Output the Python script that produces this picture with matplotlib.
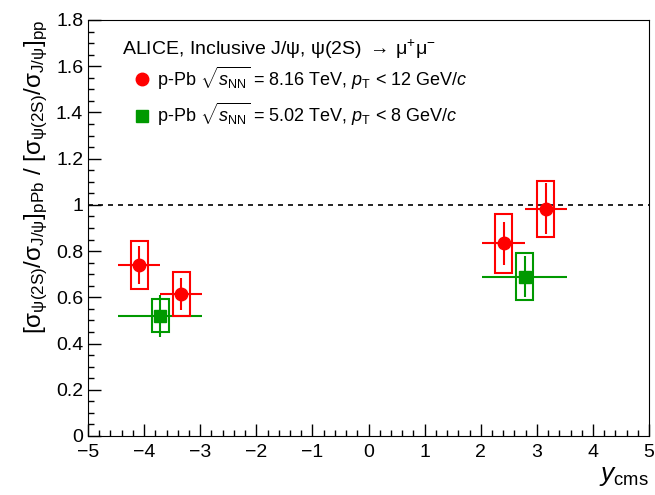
import numpy as np
import matplotlib
matplotlib.use("Agg")
import matplotlib.pyplot as plt
from matplotlib.lines import Line2D
from matplotlib.patches import Rectangle
from matplotlib.ticker import MultipleLocator, FormatStrFormatter

plt.rcParams['font.family'] = ['Liberation Sans', 'DejaVu Sans']
plt.rcParams['mathtext.fontset'] = 'custom'
plt.rcParams['mathtext.rm'] = 'Liberation Sans'
plt.rcParams['mathtext.it'] = 'Liberation Sans:italic'
plt.rcParams['mathtext.default'] = 'regular'

# p-Pb 8.16 TeV, pT < 12 GeV/c
y816 = [-4.085, -3.335, 2.405, 3.155]
ybw816 = [0.375, 0.375, 0.375, 0.375]
r816 = [0.74, 0.615, 0.833, 0.983]
stat816 = [0.083, 0.070, 0.095, 0.110]
sys816 = [0.104, 0.095, 0.128, 0.120]

# p-Pb 5.02 TeV, pT < 8 GeV/c
y502 = [-3.71, 2.78]
ybw502 = [0.75, 0.75]
r502 = [0.52, 0.69]
stat502 = [0.090, 0.090]
sys502 = [0.072, 0.100]

red = '#ff0000'
green = '#009900'
boxw = 0.15

fig = plt.figure(figsize=(6.55, 4.95), dpi=100)
ax = fig.add_axes([0.1344, 0.1192, 0.8566, 0.8404])

ax.axhline(1.0, color='black', ls=(0, (3, 3)), lw=1.2, zorder=1)

for x, xe, v, st, sy in zip(y502, ybw502, r502, stat502, sys502):
    ax.add_patch(Rectangle((x - boxw, v - sy), 2 * boxw, 2 * sy, fill=False,
                           ec=green, lw=1.5, zorder=2))
ax.errorbar(y502, r502, xerr=ybw502, yerr=stat502, fmt='s', color=green,
            ms=8, elinewidth=1.5, capsize=0, zorder=3)

for x, xe, v, st, sy in zip(y816, ybw816, r816, stat816, sys816):
    ax.add_patch(Rectangle((x - boxw, v - sy), 2 * boxw, 2 * sy, fill=False,
                           ec=red, lw=1.5, zorder=4))
ax.errorbar(y816, r816, xerr=ybw816, yerr=stat816, fmt='o', color=red,
            ms=9, elinewidth=1.5, capsize=0, zorder=5)

ax.set_xlim(-5, 5)
ax.set_ylim(0, 1.8)
ax.xaxis.set_major_locator(MultipleLocator(1))
ax.xaxis.set_minor_locator(MultipleLocator(0.2))
ax.yaxis.set_major_locator(MultipleLocator(0.2))
ax.yaxis.set_minor_locator(MultipleLocator(0.05))
ax.yaxis.set_major_formatter(FormatStrFormatter('%g'))
ax.tick_params(which='both', direction='in', labelsize=14)
ax.tick_params(which='major', length=9, width=1)
ax.tick_params(which='minor', length=4.5, width=1)
ax.tick_params(axis='x', pad=6)

ax.set_xlabel(r'$\mathit{y}_{cms}$', fontsize=19, loc='right', labelpad=2)
ax.set_ylabel(r'$[\sigma_{\psi(2S)}/\sigma_{J/\psi}]_{pPb}\ /\ [\sigma_{\psi(2S)}/\sigma_{J/\psi}]_{pp}$',
              fontsize=17.5, loc='top', labelpad=4)

ax.text(0.06, 0.93, r'ALICE, Inclusive J/$\psi$, $\psi$(2S) $\rightarrow\,\mu^{+}\mu^{-}$',
        transform=ax.transAxes, fontsize=14, va='center', ha='left')

handles = [Line2D([], [], marker='o', ls='none', color=red, ms=9),
           Line2D([], [], marker='s', ls='none', color=green, ms=8)]
labels = [r'p-Pb $\sqrt{\mathit{s}_{NN}}$ = 8.16 TeV, $\mathit{p}_{T}$ < 12 GeV/$\mathit{c}$',
          r'p-Pb $\sqrt{\mathit{s}_{NN}}$ = 5.02 TeV, $\mathit{p}_{T}$ < 8 GeV/$\mathit{c}$']
ax.legend(handles, labels, loc='upper left', bbox_to_anchor=(0.06, 0.91),
          frameon=False, fontsize=13, handletextpad=0.15, labelspacing=0.5,
          borderaxespad=0, handlelength=1.4)

fig.savefig('out.png', dpi=100)
